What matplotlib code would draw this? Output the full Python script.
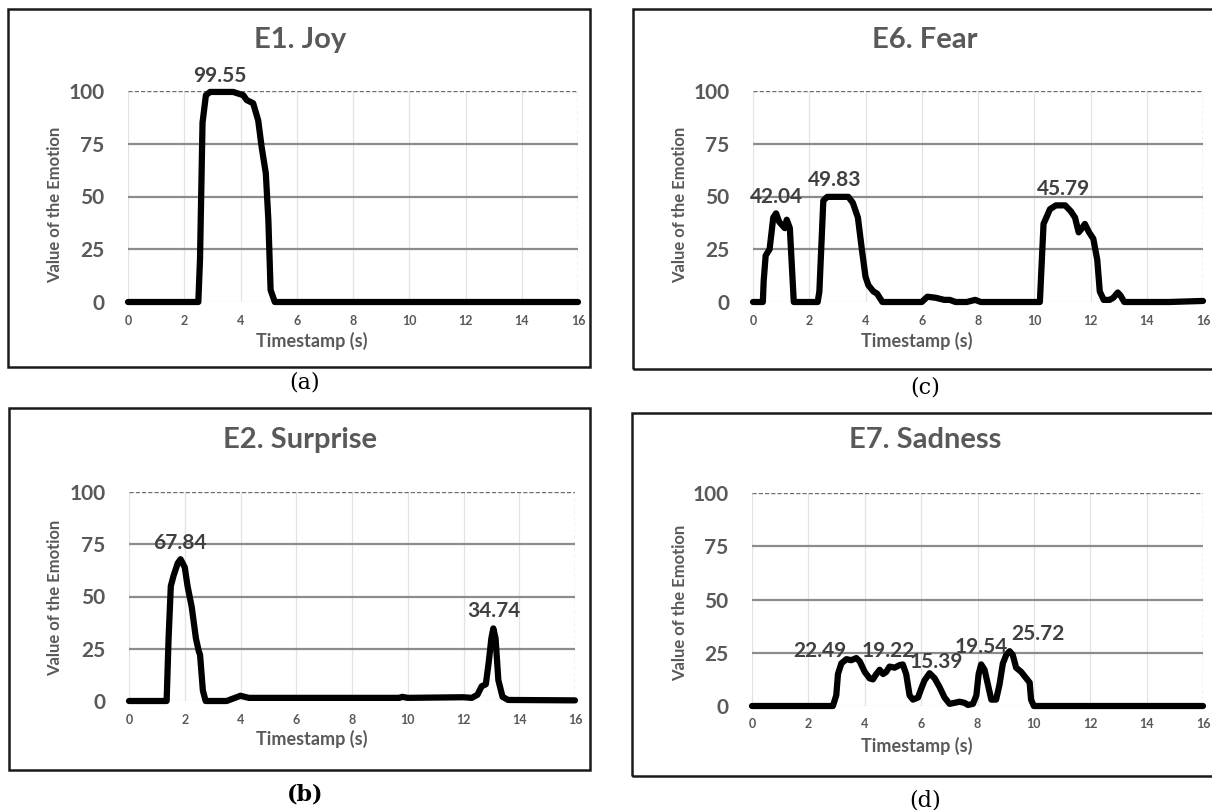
import matplotlib
matplotlib.use('Agg')
import matplotlib.pyplot as plt
from matplotlib.patches import Rectangle

# Data (time in s, emotion value)
joy_t = [0, 2.5, 2.56, 2.65, 2.77, 2.92, 3.74, 4.1, 4.22, 4.45, 4.63, 4.75, 4.9, 4.99, 5.07, 5.22, 16]
joy_v = [0, 0, 20, 85, 98, 99.55, 99.55, 98, 95.7, 94.2, 86, 73.6, 61, 39, 5.7, 0, 0]

surprise_t = [0, 1.35, 1.42, 1.5, 1.6, 1.75, 1.85, 2.0, 2.1, 2.25, 2.4, 2.5, 2.55, 2.65, 2.75,
              3.5, 4.0, 4.3, 9.7, 9.8, 10.0, 12.0, 12.3, 12.5, 12.65, 12.8, 12.9, 13.0,
              13.07, 13.15, 13.25, 13.4, 13.6, 16]
surprise_v = [0, 0, 30, 55, 60, 66, 67.84, 64, 55, 45, 30, 24, 22, 5, 0,
              0, 2.5, 1.5, 1.5, 2, 1.5, 1.8, 1.5, 3, 7, 8, 18, 30,
              34.74, 30, 10, 2, 0.5, 0.3]

fear_t = [0, 0.35, 0.38, 0.45, 0.59, 0.72, 0.82, 0.93, 1.13, 1.2, 1.31, 1.45,
          2.3, 2.36, 2.5, 2.64, 3.39, 3.55, 3.73, 3.87, 4.0, 4.1, 4.28, 4.41, 4.6,
          6.0, 6.2, 6.5, 6.8, 7.0, 7.2, 7.6, 7.9, 8.1,
          10.2, 10.33, 10.56, 10.77, 11.1, 11.3, 11.45, 11.58, 11.7, 11.8, 11.95,
          12.1, 12.24, 12.33, 12.47, 12.68, 12.81, 12.97, 13.07, 13.2, 14.8, 16]
fear_v = [0, 0, 10, 22, 25, 40, 42.04, 38, 35, 39, 35, 0,
          0, 5, 48, 49.83, 49.83, 47, 40, 25, 12, 8, 5, 4, 0,
          0, 2.5, 2, 1, 1, 0, 0, 1, 0,
          0, 37, 44, 45.79, 45.79, 43, 40, 33, 35, 37, 33,
          30, 20, 5, 1, 1, 2, 4.5, 3, 0, 0, 0.5]

sad_t = [0, 2.87, 2.99, 3.05, 3.17, 3.35, 3.52, 3.7, 3.82, 4.0, 4.17, 4.29, 4.41, 4.53,
         4.65, 4.76, 4.88, 5.06, 5.24, 5.35, 5.47, 5.59, 5.71, 5.89, 6.0, 6.12, 6.3,
         6.48, 6.65, 6.83, 7.01, 7.19, 7.36, 7.54, 7.66, 7.84, 7.96, 8.04, 8.13, 8.25,
         8.37, 8.49, 8.66, 8.78, 8.9, 9.02, 9.14, 9.25, 9.37, 9.55, 9.73, 9.85, 9.9,
         10.0, 16]
sad_v = [0, 0, 5, 15, 20, 22, 21.5, 22.49, 21, 16, 13, 12.5, 15, 17,
         15, 16, 18.5, 18, 19.22, 19.5, 15, 5, 3, 4, 8, 12, 15.39,
         13, 9, 4, 1, 1.5, 2, 1.5, 0.5, 1, 5, 15, 19.54, 17,
         10, 3, 3, 10, 20, 24, 25.72, 24, 18, 16, 13, 11, 3,
         0, 0]

# peak labels and where they sit (t, value)
joy_labels = ['99.55']
joy_label_pos = [(3.26, 107)]
surprise_labels = ['67.84', '34.74']
surprise_label_pos = [(1.83, 75.7), (13.08, 42.9)]
fear_labels = ['42.04', '49.83', '45.79']
fear_label_pos = [(0.82, 49.8), (2.91, 57.6), (11.04, 53.7)]
sad_labels = ['22.49', '19.22', '15.39', '19.54', '25.72']
sad_label_pos = [(2.4, 26), (4.82, 26), (6.54, 20.6), (8.13, 27.7), (10.14, 34)]

W, H = 1212, 810
fig = plt.figure(figsize=(W / 100, H / 100), dpi=100)
fig.patch.set_facecolor('white')

GRAY = '#595959'
DARK = '#404040'
FONT = 'Lato'


def rect(l, r, top, bottom):
    return [l / W, 1 - bottom / H, (r - l) / W, (bottom - top) / H]


def fx(x):
    return x / W


def fy(y):
    return 1 - y / H


panels = [
    # title, t, v, labels, label positions, axes box, frame box, title xy, ylabel xy, xlabel xy, caption, caption xy, bold caption
    ('E1. Joy', joy_t, joy_v, joy_labels, joy_label_pos,
     (128, 578, 91, 302), (8, 590, 9, 367), (300, 40), (55, 205), (312, 341), '(a)', (305, 383), False),
    ('E6. Fear', fear_t, fear_v, fear_labels, fear_label_pos,
     (753, 1203, 91, 302), (633, 1218, 9, 369), (925, 40), (680, 205), (917, 341), '(c)', (925, 388), False),
    ('E2. Surprise', surprise_t, surprise_v, surprise_labels, surprise_label_pos,
     (129, 575, 492, 701), (9, 590, 408, 770), (300, 440), (55, 598), (312, 739), '(b)', (305, 795), True),
    ('E7. Sadness', sad_t, sad_v, sad_labels, sad_label_pos,
     (752, 1203, 493, 706), (632, 1218, 413, 776), (925, 440), (680, 603), (917, 746), '(d)', (925, 800), False),
]

for (title, t, v, labels, lpos, box, frame, txy, yxy, xxy, cap, cxy, capbold) in panels:
    ax = fig.add_axes(rect(*box))
    ax.set_xlim(0, 16)
    ax.set_ylim(0, 100)
    for s in ax.spines.values():
        s.set_visible(False)

    # gridlines like the excel chart
    for x in range(0, 16, 2):
        ax.axvline(x, color='#e3e3e3', lw=0.9, zorder=0)
    ax.axvline(16, color='#9a9a9a', lw=0.9, ls=(0, (3, 2)), zorder=0)
    ax.axhline(0, color='#e3e3e3', lw=0.9, zorder=0)
    for y in (25, 50, 75):
        ax.axhline(y, color='#8c8c8c', lw=1.6, zorder=1)
    ax.axhline(100, color='#6e6e6e', lw=1.0, ls=(0, (3, 1.5)), zorder=1)

    ax.plot(t, v, color='black', lw=4.5, solid_joinstyle='round', solid_capstyle='round',
            clip_on=False, zorder=3)

    ax.set_yticks([0, 25, 50, 75, 100])
    ax.set_xticks(range(0, 17, 2))
    ax.tick_params(length=0)
    ax.tick_params(axis='y', pad=17, labelsize=15, labelcolor=GRAY)
    ax.tick_params(axis='x', pad=9, labelsize=9, labelcolor=GRAY)
    for lab in ax.get_yticklabels() + ax.get_xticklabels():
        lab.set_fontfamily(FONT)
        lab.set_fontweight('bold')

    for txt, (lx, ly) in zip(labels, lpos):
        ax.text(lx, ly, txt, ha='center', va='center', fontsize=15, fontweight='bold',
                color=DARK, family=FONT, zorder=4)

    fig.text(fx(txy[0]), fy(txy[1]), title, ha='center', va='center', fontsize=21,
             fontweight='bold', color=GRAY, family=FONT)
    fig.text(fx(yxy[0]), fy(yxy[1]), 'Value of the Emotion', ha='center', va='center',
             rotation=90, fontsize=12, fontweight='bold', color=GRAY, family=FONT)
    fig.text(fx(xxy[0]), fy(xxy[1]), 'Timestamp (s)', ha='center', va='center',
             fontsize=13, fontweight='bold', color=GRAY, family=FONT)
    fig.text(fx(cxy[0]), fy(cxy[1]), cap, ha='center', va='center', fontsize=16,
             fontweight='bold' if capbold else 'normal', color='black', family='DejaVu Serif')

    l, r, top, bottom = frame
    fig.patches.append(Rectangle((fx(l), fy(bottom)), (r - l) / W, (bottom - top) / H,
                                 transform=fig.transFigure, fill=False, ec='#1a1a1a', lw=1.8))

fig.savefig('out.png', dpi=100)
